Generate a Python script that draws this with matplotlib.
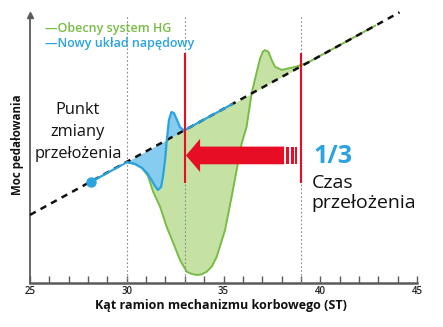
import numpy as np
import matplotlib
matplotlib.use("Agg")
import matplotlib.pyplot as plt
from matplotlib.patches import Polygon

plt.rcParams['font.family'] = ['Open Sans', 'DejaVu Sans']

# ---- data (crank angle in degrees, pedalling power in arbitrary units) ----
ref_x = [25.0, 44.1]
ref_y = [2.54, 10.1]

shift_point_x = 28.15
shift_point_y = 3.77

new_x = [28.15, 30.01, 30.43, 30.79, 31.05, 31.25, 31.46, 31.61, 31.77, 31.87,
         31.98, 32.08, 32.18, 32.31, 32.44, 32.60, 32.75, 32.96, 35.44]
new_y = [3.77, 4.51, 4.44, 4.29, 4.10, 3.88, 3.62, 3.47, 3.58, 3.96,
         4.59, 5.41, 6.08, 6.38, 6.34, 6.08, 5.82, 5.69, 6.67]

hg_x = [30.01, 30.43, 30.79, 31.10, 31.36, 31.72, 32.06, 32.41, 32.75, 33.10,
        33.35, 33.61, 33.86, 34.13, 34.40, 34.65, 35.08, 35.42, 35.68, 35.94,
        36.19, 36.46, 36.72, 36.89, 37.04, 37.14, 37.32, 37.49, 37.66, 38.01,
        38.35, 38.70, 39.06, 39.40, 42.83]
hg_y = [4.51, 4.44, 4.29, 3.99, 3.41, 2.85, 2.10, 1.48, 0.86, 0.42,
        0.34, 0.30, 0.32, 0.42, 0.62, 0.98, 1.98, 3.22, 4.22, 5.21,
        5.82, 7.10, 7.88, 8.38, 8.64, 8.69, 8.63, 8.32, 8.07, 7.95,
        8.01, 8.06, 8.15, 8.24, 9.60]

guide_x = [30, 33, 39]
red_x = [33, 39]
red_ymin, red_ymax = 3.73, 8.58

arrow_tip_x, arrow_head_x, arrow_shaft_end_x = 33.06, 33.79, 38.13
arrow_bars = [(38.23, 38.38), (38.49, 38.62), (38.70, 38.80)]
arrow_y, shaft_h, head_h = 4.76, 0.33, 0.62

xticks_major = [25, 30, 35, 40, 45]

GREEN = '#78bc45'
GREEN_FILL = '#c6e1a4'
BLUE = '#2aa3df'
BLUE_FILL = '#86cbf0'
RED = '#e60d25'
AX = '#5a5a5a'

fig = plt.figure(figsize=(4.43, 3.27), dpi=100)
ax = fig.add_axes([30/443, 1-283/327, (417-30)/443, (283-15)/327])
ax.set_xlim(25, 45)
ax.set_ylim(0, 10)

hx = np.array(hg_x); hy = np.array(hg_y)
nx = np.array(new_x); ny = np.array(new_y)
diag_h = np.interp(hx, ref_x, ref_y)
diag_n = np.interp(nx, ref_x, ref_y)

ax.fill_between(hx, hy, diag_h, color=GREEN_FILL, lw=0, zorder=1)
m = nx >= 30.0
ax.fill_between(nx[m], ny[m], diag_n[m], color=BLUE_FILL, lw=0, zorder=2)

for gx in guide_x:
    ax.plot([gx, gx], [0, 10], color='#8a8a8a', lw=0.8, ls=(0, (1.5, 2)), zorder=3)

ax.plot(hx, hy, color=GREEN, lw=1.4, zorder=4)
ax.plot(ref_x, ref_y, color='#111111', lw=1.8, ls=(0, (2.6, 2.2)), zorder=5, clip_on=False)
ax.plot(nx, ny, color=BLUE, lw=1.6, zorder=6)
ax.plot([shift_point_x], [shift_point_y], 'o', color=BLUE, ms=6.5, zorder=7)

ax.vlines(red_x, red_ymin, red_ymax, color=RED, lw=1.5, zorder=8)

# arrow
poly = [(arrow_tip_x, arrow_y), (arrow_head_x, arrow_y + head_h),
        (arrow_head_x, arrow_y + shaft_h), (arrow_shaft_end_x, arrow_y + shaft_h),
        (arrow_shaft_end_x, arrow_y - shaft_h), (arrow_head_x, arrow_y - shaft_h),
        (arrow_head_x, arrow_y - head_h)]
ax.add_patch(Polygon(poly, closed=True, color=RED, lw=0, zorder=9))
for b0, b1 in arrow_bars:
    ax.add_patch(Polygon([(b0, arrow_y - shaft_h), (b1, arrow_y - shaft_h),
                          (b1, arrow_y + shaft_h), (b0, arrow_y + shaft_h)],
                         closed=True, color=RED, lw=0, zorder=9))

# axes styling
for s in ['top', 'right']:
    ax.spines[s].set_visible(False)
ax.spines['bottom'].set_color(AX)
ax.spines['bottom'].set_linewidth(1.8)
ax.spines['left'].set_color(AX)
ax.spines['left'].set_linewidth(1.3)
ax.plot([25], [10], marker='^', color=AX, ms=4, clip_on=False, zorder=10)
ax.set_yticks([])
ax.set_xticks(xticks_major)
ax.set_xticks(np.arange(25, 46, 1), minor=True)
ax.tick_params(axis='x', which='both', direction='in', length=5, width=1, color=AX,
               labelsize=7, pad=2, labelcolor='#222222')
for lbl in ax.get_xticklabels():
    lbl.set_fontweight('semibold')

# legend texts
ax.text(25.78, 9.48, '—Obecny system HG', color=GREEN, fontsize=9, fontweight='semibold',
        va='center', ha='left', zorder=11)
ax.text(25.78, 8.92, '—Nowy układ napędowy', color=BLUE, fontsize=9, fontweight='semibold',
        va='center', ha='left', zorder=11)

ax.text(27.48, 5.62, 'Punkt\nzmiany\nprzełożenia', fontsize=11.8, ha='center', va='center',
        linespacing=1.5, color='#111111', zorder=11,
        bbox=dict(facecolor='white', edgecolor='none', pad=1))

ax.text(39.63, 4.46, '1/3', fontsize=18, fontweight='bold', color=BLUE, ha='left', va='baseline', zorder=11)
ax.text(39.55, (283-188.3)/26.8, 'Czas', fontsize=14, color='#111111', ha='left', va='baseline', zorder=11)
ax.text(39.55, (283-208.3)/26.8, 'przełożenia', fontsize=14, color='#111111', ha='left', va='baseline', zorder=11)

fig.text(18/443, 1-145/327, 'Moc pedałowania', rotation=90, fontsize=8.3, fontweight='bold',
         ha='center', va='center', color='#111111')
fig.text(221/443, 1-305/327, 'Kąt ramion mechanizmu korbowego (ST)', fontsize=9,
         fontweight='bold', ha='center', va='center', color='#111111')

fig.savefig('out.png', dpi=100)
